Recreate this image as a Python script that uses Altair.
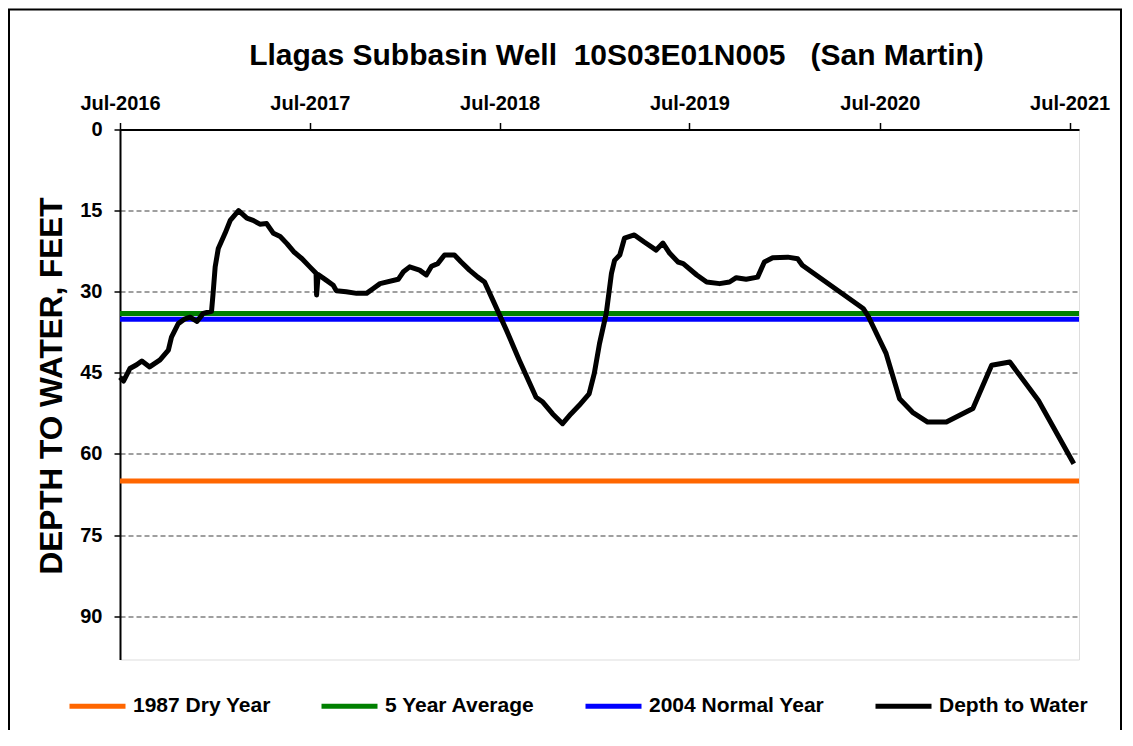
import altair as alt
import pandas as pd

# ---- data ----
DATES = [
    "2016-07-01", "2016-07-08", "2016-07-20", "2016-08-02", "2016-08-12", "2016-08-27",
    "2016-09-16", "2016-10-02", "2016-10-08", "2016-10-21", "2016-11-03", "2016-11-13",
    "2016-11-26", "2016-12-08", "2016-12-24", "2016-12-27", "2016-12-31", "2017-01-06",
    "2017-01-19", "2017-01-29", "2017-02-14", "2017-03-02", "2017-03-14", "2017-03-27",
    "2017-04-09", "2017-04-22", "2017-05-05", "2017-05-18", "2017-05-31", "2017-06-16",
    "2017-07-01", "2017-07-13", "2017-07-14", "2017-07-17", "2017-08-02", "2017-08-15",
    "2017-08-21", "2017-09-09", "2017-09-29", "2017-10-18", "2017-10-31", "2017-11-13",
    "2017-12-18", "2017-12-28", "2018-01-09", "2018-01-28", "2018-02-10", "2018-02-20",
    "2018-03-04", "2018-03-17", "2018-04-05", "2018-04-18", "2018-05-04", "2018-05-20",
    "2018-06-02", "2018-06-21", "2018-07-14", "2018-08-08", "2018-09-09", "2018-09-22",
    "2018-10-11", "2018-10-30", "2018-11-15", "2018-12-01", "2018-12-20", "2018-12-30",
    "2019-01-09", "2019-01-22", "2019-02-01", "2019-02-07", "2019-02-17", "2019-02-26",
    "2019-03-17", "2019-04-05", "2019-04-28", "2019-05-11", "2019-05-24", "2019-06-09",
    "2019-06-19", "2019-07-15", "2019-08-03", "2019-08-28", "2019-09-16", "2019-09-29",
    "2019-10-18", "2019-11-09", "2019-11-22", "2019-12-08", "2020-01-06", "2020-01-25",
    "2020-02-03", "2020-05-30", "2020-06-08", "2020-07-13", "2020-08-08", "2020-09-02",
    "2020-10-01", "2020-11-06", "2020-12-27", "2021-02-01", "2021-03-08", "2021-05-02",
    "2021-07-09",
]
DEPTHS = [
    45.8, 46.5, 44.2, 43.5, 42.8, 43.9,
    42.6, 40.8, 38.4, 35.9, 35.0, 34.7,
    35.5, 34.0, 33.6, 30.3, 25.4, 22.0,
    19.2, 16.8, 15.0, 16.4, 16.8, 17.5,
    17.4, 19.2, 19.8, 21.1, 22.6, 23.9,
    25.4, 26.6, 30.6, 26.8, 27.9, 28.8,
    29.8, 30.0, 30.3, 30.3, 29.4, 28.5,
    27.7, 26.3, 25.4, 26.0, 26.9, 25.3,
    24.8, 23.2, 23.2, 24.5, 26.0, 27.3,
    28.2, 32.2, 37.1, 42.7, 49.5, 50.4,
    52.6, 54.4, 52.6, 51.0, 48.9, 45.1,
    39.6, 34.0, 26.6, 24.2, 23.2, 20.1,
    19.5, 20.8, 22.3, 21.0, 22.9, 24.5,
    24.8, 26.9, 28.2, 28.5, 28.2, 27.4,
    27.7, 27.3, 24.5, 23.7, 23.6, 23.9,
    25.1, 33.1, 34.4, 41.4, 49.8, 52.3,
    54.1, 54.1, 51.6, 43.6, 43.0, 50.1,
    61.8,
]

REF_NAMES = ["1987 Dry Year", "5 Year Average", "2004 Normal Year"]
REF_DEPTHS = [65.0, 34.0, 35.1]

SERIES = ["1987 Dry Year", "5 Year Average", "2004 Normal Year", "Depth to Water"]
COLORS = ["#FF6600", "#008000", "#0000FF", "#000000"]

Y_TICKS = [0, 15, 30, 45, 60, 75, 90]
X_TICK_YEARS = [2016, 2017, 2018, 2019, 2020, 2021]

TITLE = "Llagas Subbasin Well\u00a0\u00a010S03E01N005\u00a0\u00a0\u00a0(San Martin)"
Y_TITLE = "DEPTH TO WATER, FEET"

FONT = "Liberation Sans"

depth_df = pd.DataFrame({"date": DATES, "depth": DEPTHS, "series": "Depth to Water"})
ref_df = pd.DataFrame({"series": REF_NAMES, "depth": REF_DEPTHS})

x_scale = alt.Scale(
    type="utc",
    domain=[alt.DateTime(year=2016, month=7, date=1, utc=True),
            alt.DateTime(year=2021, month=7, date=19, utc=True)],
)
y_scale = alt.Scale(domain=[0, 98], reverse=True, nice=False, zero=False)

color_scale = alt.Scale(domain=SERIES, range=COLORS)

legend = alt.Legend(
    title=None,
    orient="none",
    direction="horizontal",
    legendX=-53,
    legendY=546,
    symbolType="stroke",
    symbolSize=3136,
    symbolStrokeWidth=5,
    labelFont=FONT,
    labelFontSize=21,
    labelFontWeight="bold",
    labelColor="black",
    labelOffset=5,
    columnPadding=40,
    padding=0,
    labelLimit=300,
)

x_axis = alt.Axis(
    orient="top",
    values=[alt.DateTime(year=y, month=7, date=1, utc=True) for y in X_TICK_YEARS],
    format="%b-%Y",
    title=None,
    grid=False,
    labelFont=FONT,
    labelFontSize=20,
    labelFontWeight="bold",
    labelColor="black",
    labelFlush=False,
    labelOverlap=False,
    labelPadding=9,
    tickSize=7,
    tickColor="black",
    tickWidth=1.5,
    domainColor="black",
    domainWidth=2,
)

y_axis = alt.Axis(
    values=Y_TICKS,
    title=Y_TITLE,
    titleFont=FONT,
    titleFontSize=31.5,
    titleFontWeight="bold",
    titleColor="black",
    titlePadding=11,
    titleY=256,
    labelFont=FONT,
    labelFontSize=20,
    labelFontWeight="bold",
    labelColor="black",
    labelPadding=12,
    tickSize=6,
    tickColor="black",
    tickWidth=1.5,
    domainColor="black",
    domainWidth=2,
    grid=True,
    gridColor="#808080",
    gridDash=[5, 3],
    gridWidth=1.5,
)

rules = alt.Chart(ref_df).mark_rule(strokeWidth=5).encode(
    y=alt.Y("depth:Q", scale=y_scale, axis=y_axis),
    color=alt.Color("series:N", scale=color_scale, legend=legend),
)

line = alt.Chart(depth_df).mark_line(strokeWidth=5, strokeJoin="round").encode(
    x=alt.X("date:T", scale=x_scale, axis=x_axis),
    y=alt.Y("depth:Q", scale=y_scale, axis=y_axis),
    color=alt.Color("series:N", scale=color_scale, legend=legend),
)

frame = alt.Chart(pd.DataFrame({"f": [0]})).mark_rect(
    fill="white", fillOpacity=0, stroke="black", strokeWidth=2, clip=False
).encode(
    x=alt.value(-111), x2=alt.value(1001), y=alt.value(-120), y2=alt.value(640)
)

chart = alt.layer(frame, rules, line).properties(
    width=959,
    height=530,
    title=alt.Title(
        TITLE, font=FONT, fontSize=30, fontWeight="bold", color="black",
        anchor="middle", dx=17, offset=-62,
    ),
    autosize=alt.AutoSizeParams(type="none"),
    padding={"left": 112, "top": 121.5, "right": 46, "bottom": 70},
).configure_view(stroke="black", strokeWidth=2).configure(background="white")

chart.save("out.html", embed_options={"renderer": "svg", "actions": False})
